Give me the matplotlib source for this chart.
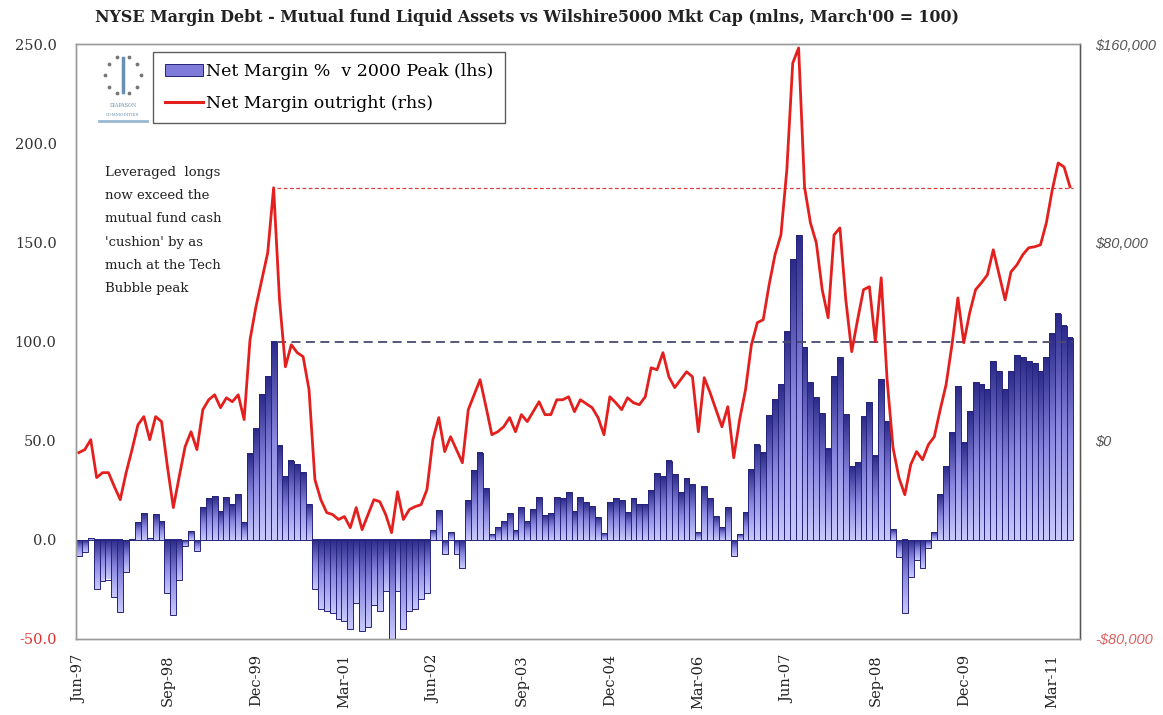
import numpy as np
import pandas as pd
import matplotlib
matplotlib.use("Agg")
import matplotlib.pyplot as plt
from matplotlib.colors import LinearSegmentedColormap
from matplotlib.patches import Patch
from matplotlib.lines import Line2D

# monthly data, Jun-97 .. Jun-11
months = pd.date_range('1997-06-01', periods=169, freq='MS')

# Net margin as % of the March 2000 peak (lhs)
net_margin_pct = [
    -8, -6, 1, -25, -21, -20, -29, -36.5, -16, 0.5,
    9, 13.5, 1, 13, 9.5, -27, -38, -20.5, -3, 4.5,
    -5.5, 16.5, 21, 22, 14.5, 21.5, 18, 23, 9, 43.5,
    56, 73.5, 82.5, 100, 47.5, 32, 40, 38, 34, 18,
    -25, -35, -36, -37, -40, -41, -45, -32, -46, -44,
    -33, -36, -26, -50, -26, -45, -36, -35, -30, -27,
    5, 15, -7, 4, -7, -14, 20, 35, 44, 26,
    3, 6.5, 9.5, 13.5, 5, 16.5, 9.5, 15.5, 21.5, 12.5,
    13.5, 21.5, 21, 24, 14.5, 21.5, 19, 17, 11.5, 3.5,
    19, 21, 20, 14, 21, 18, 18, 25, 33.5, 32,
    40, 33, 24, 31, 28, 4, 27, 21, 12, 6.5,
    16.5, -8, 3, 14, 35.5, 48, 44, 63, 71, 78.5,
    105, 141.5, 153.5, 97, 79.5, 72, 64, 46, 82.5, 92,
    63.5, 37, 39, 62.5, 69.5, 42.5, 81, 59.5, 5.5, -8.5,
    -37, -18.5, -10, -14, -4, 4, 23, 37, 54, 77.5,
    49, 65, 79.5, 78.5, 76, 90, 85, 76, 85, 93,
    92, 90, 89, 85, 92, 104, 114, 108, 102,
]

# Net margin outright, $ mlns (rhs)
net_margin_outright = [
    -4800, -3600, 400, -14900, -12900, -12900, -18500, -23800, -12900, -3600,
    6400, 9700, 400, 9700, 7700, -10500, -27000, -14500, -2400, 3600,
    -3600, 12500, 16500, 18500, 13300, 17300, 15700, 18500, 8500, 40700,
    54000, 64900, 75800, 102000, 56800, 29800, 38700, 35500, 33900, 20600,
    -15700, -23800, -29000, -29800, -31800, -30600, -35100, -27000, -35900, -29800,
    -23800, -24600, -29800, -37100, -20600, -31800, -27800, -26600, -25800, -19700,
    400, 9300, -4400, 1600, -3600, -8900, 12500, 18500, 24600, 13700,
    2400, 3600, 5600, 9300, 3600, 10500, 7700, 11700, 15700, 10500,
    10500, 16500, 16500, 17700, 11700, 16500, 14900, 13300, 9300, 2400,
    17700, 15300, 12500, 17300, 15300, 14500, 17700, 29400, 28600, 35500,
    25800, 21400, 24600, 27800, 25800, 3600, 25400, 19300, 12500, 5600,
    13700, -6900, 8500, 20600, 38700, 47600, 48800, 62900, 75000, 83000,
    109200, 152300, 158400, 102400, 87900, 79800, 60900, 49600, 83000, 85800,
    56800, 35900, 48800, 60900, 62100, 39900, 65700, 24600, -2800, -14900,
    -21800, -9700, -4400, -7700, -1600, 1600, 12500, 22600, 38700, 57600,
    39500, 51600, 60900, 63700, 66900, 77000, 66900, 56800, 68100, 70900,
    75000, 77800, 78200, 79000, 87900, 101200, 112000, 110400, 102400,
]

tick_step = 15
peak_idx = 33  # March 2000

serif = 'DejaVu Serif'
fig = plt.figure(figsize=(11.63, 7.15), dpi=100)
ax = fig.add_axes([76 / 1163, 1 - 639 / 715, 1004 / 1163, 595 / 715])
ax2 = ax.twinx()

x = np.arange(len(months))
vals = np.array(net_margin_pct)

# gradient bars: dark navy at top, lavender at bottom
cmap = LinearSegmentedColormap.from_list('bars', ['#c9c9fd', '#8a88e0', '#2c2a8a'])
grad = np.linspace(0, 1, 64).reshape(-1, 1)
bars = ax.bar(x, vals, width=1.0, facecolor='none', edgecolor='#26247a',
              linewidth=0.7, zorder=3)
for b in bars:
    x0, w = b.get_x(), b.get_width()
    y0, h = b.get_y(), b.get_height()
    lo, hi = min(y0, y0 + h), max(y0, y0 + h)
    ax.imshow(grad, extent=[x0, x0 + w, lo, hi], origin='lower', aspect='auto',
              cmap=cmap, zorder=2, interpolation='bilinear')

ax.hlines(100, peak_idx + 0.5, len(x) - 0.5, colors='#4a4a70',
          linestyles=(0, (5, 3)), linewidth=1.3, zorder=4)

ax2.plot(x, net_margin_outright, color='#e3201e', linewidth=2.0, zorder=5)
ax2.hlines(net_margin_outright[peak_idx], peak_idx + 0.5, len(x) - 0.5,
           colors='#d84040', linestyles=(0, (3, 2)), linewidth=0.9)

ax.set_xlim(-0.5, 169.7)
ax.set_ylim(-50, 250)
ax2.set_ylim(-80000, 160000)

ax.set_yticks(np.arange(-50, 251, 50))
ax.set_yticklabels([f'{v:.1f}' for v in np.arange(-50, 251, 50)],
                   fontfamily=serif, fontsize=10.5, color='#333333')
ax.get_yticklabels()[0].set_color('#e03030')
ax.tick_params(axis='y', length=0, pad=14)

rt = [-80000, 0, 80000, 160000]
ax2.set_yticks(rt)
ax2.set_yticklabels([('-' if v < 0 else '') + f'${abs(v):,}' for v in rt],
                    fontstyle='italic', fontsize=10.5, color='#555555',
                    fontfamily='Liberation Sans')
ax2.get_yticklabels()[0].set_color('#e06060')
ax2.tick_params(axis='y', length=0, pad=11)

ticks = x[::tick_step]
ax.set_xticks(ticks)
ax.set_xticklabels([m.strftime('%b-%y') for m in months[::tick_step]],
                   rotation=90, fontfamily=serif, fontsize=10.5, color='#222222')
ax.tick_params(axis='x', length=0, pad=11)

for a in (ax, ax2):
    for s in a.spines.values():
        s.set_color('#9a9a9a')
        s.set_linewidth(1.0)
ax2.spines['right'].set_color('#555555')

handles = [Patch(facecolor='#7e7cd8', edgecolor='#26247a', linewidth=0.7),
           Line2D([0], [0], color='#e3201e', linewidth=2.2)]
leg = ax2.legend(handles, ['Net Margin %  v 2000 Peak (lhs)', 'Net Margin outright (rhs)'],
                 loc='upper left', bbox_to_anchor=(0.077, 0.987), frameon=True,
                 fancybox=False, edgecolor='#333333', borderpad=0.65, borderaxespad=0,
                 handlelength=2.2, handletextpad=0.2, labelspacing=0.85,
                 prop={'family': serif, 'size': 12.5})
leg.get_frame().set_linewidth(1.0)

ax.text(0.029, 0.795,
        "Leveraged  longs\nnow exceed the\nmutual fund cash\n'cushion' by as\nmuch at the Tech\nBubble peak",
        transform=ax.transAxes, ha='left', va='top', fontfamily=serif,
        fontsize=9.5, color='#222222', linespacing=2.02)

fig.text(95 / 1163, 1 - 18 / 715,
         "NYSE Margin Debt - Mutual fund Liquid Assets vs Wilshire5000 Mkt Cap (mlns, March'00 = 100)",
         ha='left', va='center', fontfamily=serif, fontweight='bold', fontsize=11.4,
         color='#222222')

# small logo in the top-left corner
lax = fig.add_axes([95 / 1163, 1 - 125 / 715, 56 / 1163, 73 / 715])
lax.set_xlim(0, 1)
lax.set_ylim(0, 1)
lax.axis('off')
ang = np.linspace(0, 2 * np.pi, 11)[:-1]
lax.scatter(0.5 + 0.32 * np.cos(ang), 0.68 + 0.26 * np.sin(ang), s=3, color='#777777')
lax.plot([0.5, 0.5], [0.45, 0.92], color='#6a8fb0', linewidth=2.5)
lax.text(0.5, 0.24, 'DIAPASON', ha='center', fontsize=3.5, color='#6a8fb0', fontfamily=serif)
lax.text(0.5, 0.12, 'COMMODITIES', ha='center', fontsize=3, color='#6a8fb0', fontfamily=serif)
lax.plot([0.08, 0.92], [0.06, 0.06], color='#9ab8d0', linewidth=2)

fig.savefig('out.png', dpi=100)
